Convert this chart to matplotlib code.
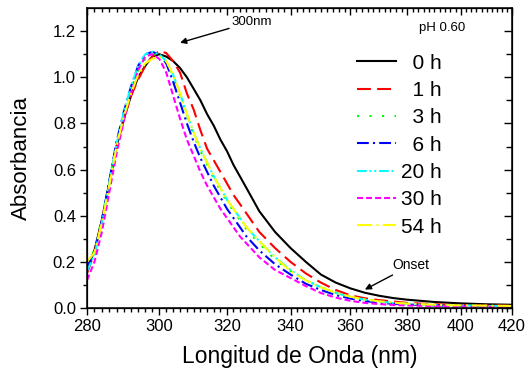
import numpy as np
import matplotlib
matplotlib.use("Agg")
import matplotlib.pyplot as plt
from matplotlib.ticker import FixedLocator, NullFormatter, FuncFormatter

plt.rcParams['font.family'] = ['Liberation Sans', 'DejaVu Sans']
plt.rcParams['lines.scale_dashes'] = False

# longitud de onda (nm)
wl = [280, 282, 284, 286, 288, 290, 292, 294, 296, 298, 300, 302, 304, 306, 308,
      310, 312, 314, 316, 318, 320, 322, 324, 326, 328, 330, 335, 340, 345, 350,
      355, 360, 365, 370, 375, 380, 390, 400, 410, 420]

a_0h = [.17, .25, .38, .54, .70, .82, .92, 1.00, 1.05, 1.09, 1.10, 1.09, 1.07, 1.04, 1.00,
        .95, .90, .84, .79, .73, .68, .62, .57, .52, .47, .42, .33, .26, .20, .145,
        .11, .085, .066, .053, .043, .036, .026, .020, .016, .014]
a_1h = [.15, .24, .38, .54, .70, .82, .92, .99, 1.05, 1.09, 1.115, 1.105, 1.07, 1.02, .93,
        .86, .77, .69, .64, .59, .54, .49, .45, .41, .37, .33, .26, .20, .15, .11,
        .078, .055, .042, .034, .028, .022, .016, .013, .011, .010]
a_3h = [.19, .25, .39, .55, .72, .84, .95, 1.03, 1.08, 1.10, 1.10, 1.07, 1.00, .92, .83,
        .75, .68, .62, .56, .51, .46, .42, .38, .34, .31, .28, .21, .16, .12, .09,
        .066, .049, .036, .028, .022, .018, .013, .010, .009, .008]
a_6h = [.18, .24, .38, .55, .72, .85, .96, 1.05, 1.10, 1.11, 1.10, 1.06, .98, .89, .80,
        .72, .65, .59, .53, .48, .43, .39, .35, .31, .28, .25, .19, .145, .105, .078,
        .056, .041, .030, .023, .018, .015, .011, .009, .008, .007]
a_20h = [.16, .23, .37, .54, .71, .85, .96, 1.05, 1.10, 1.11, 1.10, 1.07, 1.01, .93, .84,
         .76, .69, .63, .57, .52, .47, .43, .39, .35, .32, .29, .22, .165, .12, .09,
         .065, .048, .036, .028, .022, .018, .013, .011, .009, .008]
a_30h = [.12, .20, .33, .50, .67, .81, .93, 1.03, 1.09, 1.10, 1.08, 1.02, .92, .82, .73,
         .66, .59, .53, .48, .43, .39, .35, .31, .28, .25, .22, .165, .13, .095, .065,
         .045, .031, .022, .017, .013, .011, .008, .006, .005, .005]
a_54h = [.20, .24, .37, .53, .70, .83, .93, 1.01, 1.06, 1.08, 1.09, 1.07, 1.01, .93, .84,
         .76, .69, .63, .57, .52, .47, .43, .39, .35, .32, .29, .22, .16, .12, .09,
         .066, .049, .037, .029, .023, .019, .014, .011, .010, .009]

labels = ['  0 h', '  1 h', '  3 h', '  6 h', '20 h', '30 h', '54 h']
series = [a_0h, a_1h, a_3h, a_6h, a_20h, a_30h, a_54h]
colors = ['black', 'red', '#00ff00', 'blue', 'cyan', 'magenta', 'yellow']
dashes = [None, (10, 4.5), (1.5, 7.5), (8.5, 3, 1.5, 3), (7, 2, 1.4, 2, 1.4, 2),
          (4.3, 2.2), (11, 3, 1.5, 3)]

xticks = list(range(280, 421, 20))
xminor = list(range(280, 421, 2))

fig = plt.figure(figsize=(5.26, 3.70), dpi=100)
ax = fig.add_axes([0.1654, 0.1676, 0.808, 0.8105])

for y, lab, c, d in zip(series, labels, colors, dashes):
    ln, = ax.plot(wl, y, color=c, lw=1.5, label=lab)
    if d is not None:
        ln.set_dashes(d)

ax.set_xscale('log')
ax.set_xlim(280, 420)
ax.set_ylim(0, 1.3)
ax.xaxis.set_major_locator(FixedLocator(xticks))
ax.xaxis.set_minor_locator(FixedLocator(xminor))
ax.xaxis.set_major_formatter(FuncFormatter(lambda v, p: '%d' % round(v)))
ax.xaxis.set_minor_formatter(NullFormatter())
ax.set_yticks(np.arange(0, 1.21, 0.2))
ax.set_yticks(np.arange(0.1, 1.3, 0.2), minor=True)
ax.yaxis.set_major_formatter(FuncFormatter(lambda v, p: '%.1f' % v))
ax.tick_params(direction='out', which='major', length=5, width=1, labelsize=12, pad=3)
ax.tick_params(direction='out', which='minor', length=3, width=1)
for s in ax.spines.values():
    s.set_linewidth(1.1)

# ticks de arriba y derecha hacia dentro
axt = ax.twiny()
axt.set_xscale('log')
axt.set_xlim(280, 420)
axt.xaxis.set_major_locator(FixedLocator(xticks))
axt.xaxis.set_minor_locator(FixedLocator(xminor))
axt.xaxis.set_major_formatter(NullFormatter())
axt.xaxis.set_minor_formatter(NullFormatter())
axt.tick_params(direction='in', which='major', length=5, width=1)
axt.tick_params(direction='in', which='minor', length=3, width=1)
axr = ax.twinx()
axr.set_ylim(0, 1.3)
axr.set_yticks(np.arange(0, 1.21, 0.2))
axr.set_yticks(np.arange(0.1, 1.3, 0.2), minor=True)
axr.yaxis.set_major_formatter(NullFormatter())
axr.tick_params(direction='in', which='major', length=6, width=1)
axr.tick_params(direction='in', which='minor', length=4, width=1)

ax.set_xlabel('Longitud de Onda (nm)', fontsize=16.5, labelpad=8)
ax.set_ylabel('Absorbancia', fontsize=16, labelpad=15)

leg = ax.legend(loc='upper left', bbox_to_anchor=(0.635, 0.848), frameon=False,
                fontsize=15, handlelength=1.9, handletextpad=0.2, labelspacing=0.40,
                borderpad=0, borderaxespad=0)

ax.text(393, 1.213, 'pH 0.60', fontsize=9.5, ha='center', va='center')
ax.annotate('300nm', xy=(306, 1.15), xytext=(321.5, 1.215), fontsize=9.5,
            ha='left', va='bottom',
            arrowprops=dict(arrowstyle='-|>', color='black', lw=1, mutation_scale=9,
                            shrinkA=0, shrinkB=0))
ax.annotate('Onset', xy=(365, 0.08), xytext=(381.5, 0.155), fontsize=10,
            ha='center', va='bottom',
            arrowprops=dict(arrowstyle='-|>', color='black', lw=1, mutation_scale=9,
                            shrinkA=0, shrinkB=0))

fig.savefig('out.png', dpi=100)
